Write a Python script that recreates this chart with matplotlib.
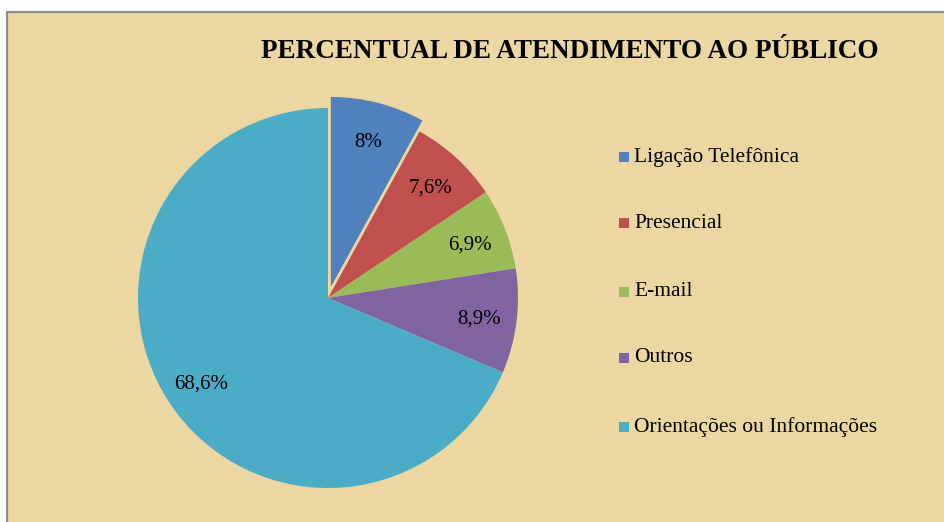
import matplotlib
matplotlib.use("Agg")
import matplotlib.pyplot as plt
from matplotlib.patches import Rectangle

categories = ["Ligação Telefônica", "Presencial", "E-mail", "Outros", "Orientações ou Informações"]
values = [8.0, 7.6, 6.9, 8.9, 68.6]
value_labels = ["8%", "7,6%", "6,9%", "8,9%", "68,6%"]
colors = ["#4F81BD", "#C0504D", "#9BBB59", "#8064A2", "#4BACC6"]
explode = [0.06, 0, 0, 0, 0]
title = "PERCENTUAL DE ATENDIMENTO AO PÚBLICO"

W, H = 944, 522
fig = plt.figure(figsize=(W / 100, H / 100), dpi=100)
fig.patch.set_facecolor("white")

bg = "#ECD7A2"
fig.patches.append(Rectangle((7 / W, -0.05), 1.1, (H - 12) / H + 0.05, transform=fig.transFigure,
                             facecolor=bg, edgecolor="#8C8C8C", linewidth=1.6, zorder=-5))

serif = ["Liberation Serif", "DejaVu Serif"]

# pie axes
cx, cy, r = 328, H - 298, 190
half = 1.1
ax = fig.add_axes([(cx - half * r) / W, (cy - half * r) / H, 2 * half * r / W, 2 * half * r / H])
ax.set_zorder(2)
ax.patch.set_alpha(0)
ax.axis("off")
wedges, texts = ax.pie(values, colors=colors, explode=explode, startangle=90, counterclock=False,
                       labels=value_labels, labeldistance=0.8, radius=1.0,
                       wedgeprops=dict(linewidth=0),
                       textprops=dict(fontsize=15, family=serif, color="black"))
for t in texts:
    t.set_ha("center")
    t.set_va("center_baseline")
ax.set_xlim(-half, half)
ax.set_ylim(-half, half)

fig.text(570 / W, 1 - 52 / H, title, ha="center", va="center", fontsize=19.5,
         fontweight="bold", family=serif, zorder=3)

# legend
ys = [157, 223, 292, 358, 427]
for cat, col, y in zip(categories, colors, ys):
    fig.patches.append(Rectangle((619 / W, 1 - (y + 5) / H), 10 / W, 10 / H, transform=fig.transFigure,
                                 facecolor=col, edgecolor="none", zorder=3))
    fig.text(634 / W, 1 - y / H, cat, ha="left", va="center", fontsize=15.5, family=serif, zorder=3)

fig.savefig("out.png", dpi=100, facecolor=fig.get_facecolor())
